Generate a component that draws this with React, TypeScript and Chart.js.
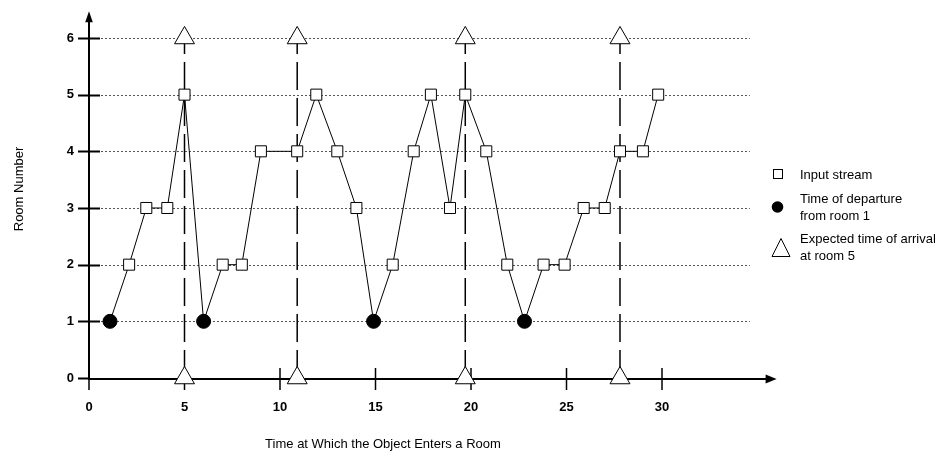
import React, { useEffect, useRef } from 'react';
import { Chart, registerables } from 'chart.js';

Chart.register(...registerables);

// ---- Data ----
const streamTimes = [1.1, 2.1, 3.0, 4.1, 5.0, 6.0, 7.0, 8.0, 9.0, 10.9, 11.9, 13.0, 14.0, 14.9, 15.9, 17.0, 17.9, 18.9, 19.7, 20.8, 21.9, 22.8, 23.8, 24.9, 25.9, 27.0, 27.8, 29.0, 29.8];
const streamRooms = [1, 2, 3, 3, 5, 1, 2, 2, 4, 4, 5, 4, 3, 1, 2, 4, 5, 3, 5, 4, 2, 1, 2, 2, 3, 3, 4, 4, 5];
const departureTimes = [1.1, 6.0, 14.9, 22.8];
const arrivalTimes = [5.0, 10.9, 19.7, 27.8];
const arrivalMarkerRooms = [0, 6];

const xTickValues = [0, 5, 10, 15, 20, 25, 30];
const yTickValues = [0, 1, 2, 3, 4, 5, 6];

const xTitle = 'Time at Which the Object Enters a Room';
const yTitle = 'Room Number';
const legendSquareLines = ['Input stream'];
const legendCircleLines = ['Time of departure', 'from room 1'];
const legendTriangleLines = ['Expected time of arrival', 'at room 5'];

// axis ranges (layout config)
const X_MAX = 30.785;
const Y_MAX = 6.67;
const GRID_END = 34.6;
const X_ARROW_END = 36.0;
const Y_ARROW_END = 6.47;

const FONT = "'Liberation Sans', Arial, Helvetica, sans-serif";

export default function App() {
  const ref = useRef<HTMLCanvasElement>(null);

  useEffect(() => {
    const canvas = ref.current;
    if (!canvas) return;

    const isDeparture = (t: number) => departureTimes.includes(t);

    const streamData = streamTimes.map((t, i) => ({ x: t, y: streamRooms[i] }));

    const arrivalSets = arrivalTimes.map((t) => ({
      label: 'Expected time of arrival',
      data: arrivalMarkerRooms.map((r) => ({ x: t, y: r })),
      borderColor: '#000',
      borderWidth: 1.5,
      borderDash: [28, 8],
      pointStyle: 'triangle',
      pointRadius: 11.5,
      pointBackgroundColor: '#fff',
      pointBorderColor: '#000',
      pointBorderWidth: 1,
      clip: false,
      order: 2,
    }));

    const decor = {
      id: 'decor',
      beforeDatasetsDraw(chart: any) {
        const { ctx } = chart;
        const xs = chart.scales.x;
        const ys = chart.scales.y;
        const x0 = xs.getPixelForValue(0);
        const y0 = ys.getPixelForValue(0);
        ctx.save();
        // dotted horizontal grid lines
        ctx.strokeStyle = '#555';
        ctx.lineWidth = 1;
        ctx.setLineDash([2, 2]);
        const gx1 = xs.getPixelForValue(GRID_END);
        for (const v of yTickValues) {
          if (v === 0) continue;
          const py = Math.round(ys.getPixelForValue(v)) + 0.5;
          ctx.beginPath();
          ctx.moveTo(x0, py);
          ctx.lineTo(gx1, py);
          ctx.stroke();
        }
        ctx.setLineDash([]);
        ctx.strokeStyle = '#000';
        // y tick marks
        ctx.lineWidth = 2;
        for (const v of yTickValues) {
          const py = Math.round(ys.getPixelForValue(v)) + 1;
          ctx.beginPath();
          ctx.moveTo(x0 - 11, py - 0.5);
          ctx.lineTo(v === 0 ? x0 : x0 + 11, py - 0.5);
          ctx.stroke();
        }
        // x tick marks
        ctx.lineWidth = 1.5;
        for (const v of xTickValues) {
          const px = xs.getPixelForValue(v);
          ctx.beginPath();
          ctx.moveTo(px, v === 0 ? y0 : y0 - 10);
          ctx.lineTo(px, y0 + 12);
          ctx.stroke();
        }
        // axes
        ctx.lineWidth = 2;
        const xEnd = xs.getPixelForValue(X_ARROW_END);
        const yEnd = ys.getPixelForValue(Y_ARROW_END);
        ctx.beginPath();
        ctx.moveTo(x0 - 1, y0 + 1);
        ctx.lineTo(xEnd - 10, y0 + 1);
        ctx.stroke();
        ctx.beginPath();
        ctx.moveTo(x0, y0 + 1);
        ctx.lineTo(x0, yEnd + 10);
        ctx.stroke();
        // arrowheads
        ctx.fillStyle = '#000';
        ctx.beginPath();
        ctx.moveTo(xEnd, y0 + 1);
        ctx.lineTo(xEnd - 11, y0 + 1 - 4.5);
        ctx.lineTo(xEnd - 11, y0 + 1 + 4.5);
        ctx.closePath();
        ctx.fill();
        ctx.beginPath();
        ctx.moveTo(x0, yEnd);
        ctx.lineTo(x0 - 3.8, yEnd + 11);
        ctx.lineTo(x0 + 3.8, yEnd + 11);
        ctx.closePath();
        ctx.fill();
        ctx.restore();
      },
      afterDraw(chart: any) {
        const { ctx } = chart;
        ctx.save();
        ctx.font = `13px ${FONT}`;
        ctx.fillStyle = '#000';
        ctx.strokeStyle = '#000';
        ctx.textAlign = 'left';
        ctx.textBaseline = 'middle';
        const tx = 800;
        const lh = 17;
        // square
        ctx.lineWidth = 1;
        ctx.fillStyle = '#fff';
        ctx.fillRect(773.5, 169.5, 9, 9);
        ctx.strokeRect(773.5, 169.5, 9, 9);
        ctx.fillStyle = '#000';
        legendSquareLines.forEach((s, i) => ctx.fillText(s, tx, 175.5 + i * lh));
        // circle
        ctx.beginPath();
        ctx.arc(777.5, 207, 5.8, 0, Math.PI * 2);
        ctx.fill();
        legendCircleLines.forEach((s, i) => ctx.fillText(s, tx, 199 + i * lh));
        // triangle
        ctx.beginPath();
        ctx.moveTo(781, 238.5);
        ctx.lineTo(772, 256.5);
        ctx.lineTo(790, 256.5);
        ctx.closePath();
        ctx.fillStyle = '#fff';
        ctx.fill();
        ctx.stroke();
        ctx.fillStyle = '#000';
        legendTriangleLines.forEach((s, i) => ctx.fillText(s, tx, 239 + i * lh));
        ctx.restore();
      },
    };

    const chart = new Chart(canvas, {
      type: 'line',
      data: {
        datasets: [
          {
            label: 'Input stream',
            data: streamData,
            borderColor: '#000',
            borderWidth: 1,
            tension: 0,
            pointStyle: streamTimes.map((t) => (isDeparture(t) ? 'circle' : 'rect')),
            pointRadius: streamTimes.map((t) => (isDeparture(t) ? 7 : 7.8)),
            pointBackgroundColor: streamTimes.map((t) => (isDeparture(t) ? '#000' : '#fff')),
            pointBorderColor: '#000',
            pointBorderWidth: 1,
            clip: false,
            order: 0,
          } as any,
          ...(arrivalSets as any[]),
        ],
      },
      options: {
        responsive: false,
        animation: false,
        devicePixelRatio: 1,
        layout: { autoPadding: false, padding: { left: 0, top: 0, right: 275, bottom: 0 } },
        plugins: {
          legend: { display: false },
          tooltip: { enabled: false },
        },
        scales: {
          x: {
            type: 'linear',
            min: 0,
            max: X_MAX,
            afterBuildTicks: (s: any) => {
              s.ticks = xTickValues.map((v) => ({ value: v }));
            },
            afterFit: (s: any) => {
              s.height = 77;
              s.paddingLeft = 0;
              s.paddingRight = 0;
            },
            grid: { display: false, drawTicks: false },
            border: { display: false },
            ticks: {
              padding: 22,
              color: '#000',
              maxRotation: 0,
              autoSkip: false,
              font: { family: FONT, size: 13, weight: 'bold' },
            },
            title: {
              display: true,
              text: xTitle,
              color: '#000',
              font: { family: FONT, size: 13 },
              padding: { top: 0, bottom: 3 },
            },
          },
          y: {
            type: 'linear',
            min: 0,
            max: Y_MAX,
            afterBuildTicks: (s: any) => {
              s.ticks = yTickValues.map((v) => ({ value: v }));
            },
            afterFit: (s: any) => {
              s.width = 89;
              s.paddingTop = 0;
              s.paddingBottom = 0;
            },
            grid: { display: false, drawTicks: false },
            border: { display: false },
            ticks: {
              padding: 15,
              color: '#000',
              autoSkip: false,
              font: { family: FONT, size: 13, weight: 'bold' },
            },
            title: {
              display: true,
              text: yTitle,
              color: '#000',
              font: { family: FONT, size: 13 },
              padding: { top: 12, bottom: 0 },
            },
          },
        },
      } as any,
      plugins: [decor],
    });

    return () => chart.destroy();
  }, []);

  return (
    <div style={{ position: 'fixed', left: 0, top: 0, width: 952, height: 455, background: '#fff' }}>
      <canvas ref={ref} width={952} height={455} style={{ display: 'block' }} />
    </div>
  );
}
